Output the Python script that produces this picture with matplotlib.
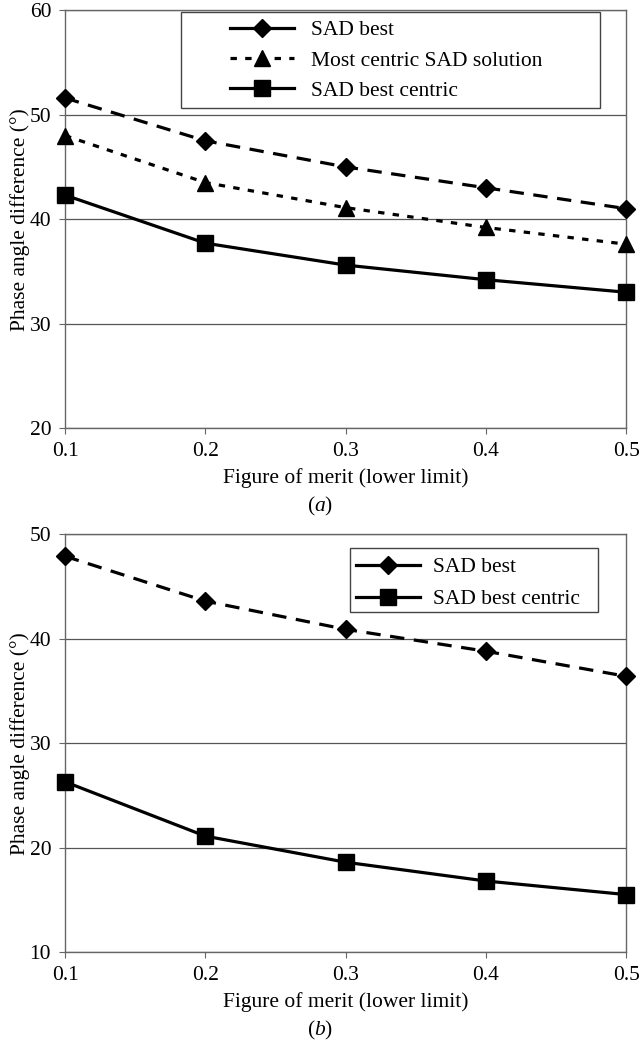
import matplotlib
matplotlib.use("Agg")
import matplotlib.pyplot as plt
from matplotlib.lines import Line2D
from matplotlib.patches import Rectangle

plt.rcParams['font.family'] = ['Liberation Serif', 'DejaVu Serif']
plt.rcParams['mathtext.fontset'] = 'custom'
plt.rcParams['mathtext.rm'] = 'Liberation Serif'
plt.rcParams['mathtext.it'] = 'Liberation Serif:italic'

# data
fom = [0.1, 0.2, 0.3, 0.4, 0.5]
# panel (a)
a_sad_best = [51.6, 47.5, 45.0, 43.0, 41.0]
a_most_centric = [48.0, 43.5, 41.1, 39.2, 37.6]
a_best_centric = [42.3, 37.7, 35.6, 34.2, 33.0]
# panel (b)
b_sad_best = [47.9, 43.6, 40.9, 38.8, 36.4]
b_best_centric = [26.3, 21.1, 18.6, 16.8, 15.5]

xticks = [0.1, 0.2, 0.3, 0.4, 0.5]
xticklabels = ['0.1', '0.2', '0.3', '0.4', '0.5']

LW = 2.3
LONG_DASH = (0, (4.5, 3.0))
SHORT_DASH = (0, (2.0, 2.6))
FS = 15.5

fig = plt.figure(figsize=(6.4, 10.47), dpi=100)
ax1 = fig.add_axes([0.1016, 0.5912, 0.877, 0.399])
ax2 = fig.add_axes([0.1016, 0.0907, 0.877, 0.399])


def style_axes(ax, ylim, yticks):
    ax.set_xlim(0.1, 0.5)
    ax.set_ylim(*ylim)
    ax.set_xticks(xticks)
    ax.set_xticklabels(xticklabels)
    ax.set_yticks(yticks)
    ax.yaxis.grid(True, color='#555555', lw=0.9)
    ax.set_axisbelow(True)
    for s in ax.spines.values():
        s.set_color('#666666')
        s.set_linewidth(1.0)
    ax.tick_params(labelsize=FS, direction='out', length=4, color='#666666', pad=6)
    ax.set_xlabel('Figure of merit (lower limit)', fontsize=FS, labelpad=5)
    ax.set_ylabel('Phase angle difference (°)', fontsize=FS, labelpad=0)


def legend_box(ax, x0, y0, x1, y1):
    # white box with dark frame behind a frameless legend
    ax.add_patch(Rectangle((x0, y0), x1 - x0, y1 - y0, transform=ax.transAxes,
                           facecolor='white', edgecolor='#444444', lw=1.0,
                           zorder=4, clip_on=False))


h_best = Line2D([], [], color='black', lw=LW, ls='-', marker='D', ms=9)
h_most = Line2D([], [], color='black', lw=LW, ls=SHORT_DASH, marker='^', ms=11)
h_cent = Line2D([], [], color='black', lw=LW, ls='-', marker='s', ms=11)

# panel (a)
ax1.plot(fom, a_sad_best, color='black', lw=LW, ls=LONG_DASH, marker='D', ms=9, clip_on=False, zorder=3)
ax1.plot(fom, a_most_centric, color='black', lw=LW, ls=SHORT_DASH, marker='^', ms=11, clip_on=False, zorder=3)
ax1.plot(fom, a_best_centric, color='black', lw=LW, ls='-', marker='s', ms=11, clip_on=False, zorder=3)
style_axes(ax1, (20, 60), [20, 30, 40, 50, 60])

legend_box(ax1, 0.2068, 0.766, 0.9537, 0.9952)
leg1 = ax1.legend([h_best, h_most, h_cent],
                  ['SAD best', 'Most centric SAD solution', 'SAD best centric'],
                  loc='upper left', bbox_to_anchor=(0.294, 0.976), fontsize=FS,
                  frameon=False, handlelength=2.97, handletextpad=0.8,
                  borderpad=0, labelspacing=0.47, borderaxespad=0)
leg1.set_zorder(5)

# panel (b)
ax2.plot(fom, b_sad_best, color='black', lw=LW, ls=LONG_DASH, marker='D', ms=9, clip_on=False, zorder=3)
ax2.plot(fom, b_best_centric, color='black', lw=LW, ls='-', marker='s', ms=11, clip_on=False, zorder=3)
style_axes(ax2, (10, 50), [10, 20, 30, 40, 50])

legend_box(ax2, 0.508, 0.813, 0.950, 0.967)
leg2 = ax2.legend([h_best, h_cent], ['SAD best', 'SAD best centric'],
                  loc='upper left', bbox_to_anchor=(0.519, 0.945), fontsize=FS,
                  frameon=False, handlelength=2.97, handletextpad=0.6,
                  borderpad=0, labelspacing=0.55, borderaxespad=0)
leg2.set_zorder(5)

fig.text(0.5, 1 - 506 / 1047, r'($\mathit{a}$)', ha='center', va='center', fontsize=FS)
fig.text(0.5, 1 - 1030 / 1047, r'($\mathit{b}$)', ha='center', va='center', fontsize=FS)

fig.savefig('out.png', dpi=100)
